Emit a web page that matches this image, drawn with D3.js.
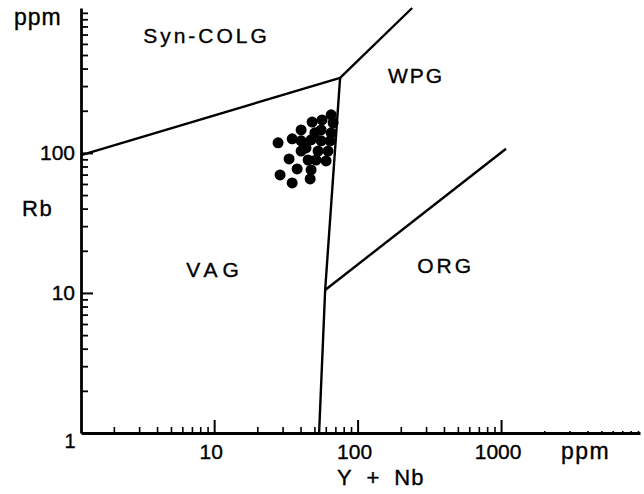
<!DOCTYPE html>
<html><head><meta charset="utf-8">
<script src="https://cdn.jsdelivr.net/npm/d3@7/dist/d3.min.js"></script>
<style>
body{margin:0;background:#fff;}
svg{display:block;font-family:"Liberation Sans",Arial,Helvetica,sans-serif;}
text{fill:#000;stroke:#000;stroke-width:0.35px;}
</style></head><body>
<svg id="chart" width="644" height="494"></svg>
<script>
// ---- data (Y+Nb ppm, Rb ppm) ----
const samplesYNb = [27.9,35.0,40.4,48.2,65.4,67.5,55.7,47.4,40.4,33.3,40.4,53.0,60.3,45.2,37.9,47.4,28.8,35.0,46.7,64.3,62.2,43.7,65.4,55.7,50.4,56.5,51.3];
const samplesRb  = [118,126,146,166,187,164,146,124,122,90.6,103,103,87.7,89,76.9,75.6,69.6,61,65.2,122,103,108.6,139,122,139,172,89];

// field boundaries (Y+Nb, Rb)
const boundaryVAGsynCOLG = [[1.2,96.8],[75.5,343]];
const boundarySynCOLGWPG = [[75.5,343],[240,1083]];
const boundaryVAGWPG     = [[75.5,343],[59.4,10.5],[53.9,1]];
const boundaryWPGORG     = [[59.4,10.5],[1083,107]];

const fieldNames  = ["Syn-COLG","WPG","VAG","ORG"];
const fieldAnchor = [[3.2,611],[163,316],[6.38,13],[260,13.9]];

const xMajorTicks = [10,100,1000];
const xMajorLabels = ["10","100","1000"];
const yMajorTicks = [10,100];
const yMajorLabels = ["10","100"];

// ---- scales ----
const svg = d3.select("#chart");
const x = d3.scaleLog().domain([1.18, 9300]).range([81, 640]);
const y = d3.scaleLog().domain([1, 1083]).range([433, 8]);

function minorTicks(lo, hi){
  const t=[];
  for(let d=1; d<=hi; d*=10){
    for(let m=1;m<10;m++){ const v=m*d; if(v>=lo && v<=hi) t.push(v); }
  }
  return t;
}

// ---- axes ----
const xMinor = minorTicks(1.5, 9300).filter(v=>!xMajorTicks.includes(v));
const yMinor = minorTicks(1.5, 1000).filter(v=>!yMajorTicks.includes(v));

const gx = svg.append("g").attr("transform","translate(0,433)")
  .call(d3.axisBottom(x).tickValues(xMinor).tickSize(-6).tickSizeOuter(0).tickFormat(""));
gx.selectAll(".tick line").attr("stroke-width",1.6)
  .attr("y2", d=> d>1000 ? -2 : -6);
const gxM = svg.append("g").attr("transform","translate(0,433)")
  .call(d3.axisBottom(x).tickValues(xMajorTicks).tickSize(-13).tickSizeOuter(0).tickFormat(""));
gxM.select(".domain").remove();
gxM.selectAll(".tick line").attr("stroke-width",2);
gx.select(".domain").attr("stroke-width",2.8);

const gy = svg.append("g").attr("transform","translate(81,0)")
  .call(d3.axisLeft(y).tickValues(yMinor).tickSize(-7).tickSizeOuter(0).tickFormat(""));
gy.selectAll(".tick line").attr("stroke-width",1.8);
gy.select(".domain").attr("stroke-width",2.8);
const gyM = svg.append("g").attr("transform","translate(81,0)")
  .call(d3.axisLeft(y).tickValues(yMajorTicks).tickSize(-12).tickSizeOuter(0).tickFormat(""));
gyM.select(".domain").remove();
gyM.selectAll(".tick line").attr("stroke-width",2);

// tick labels
svg.selectAll(".xlab").data(xMajorTicks).enter().append("text")
  .attr("x", d=>x(d)-3).attr("y",459).attr("text-anchor","middle")
  .attr("font-size",21).text((d,i)=>xMajorLabels[i]);
svg.selectAll(".ylab").data(yMajorTicks).enter().append("text")
  .attr("x", 75).attr("y", d=>y(d)+7).attr("text-anchor","end")
  .attr("font-size",21).text((d,i)=>yMajorLabels[i]);
svg.append("text").attr("x",70).attr("y",448).attr("text-anchor","middle")
  .attr("font-size",20).text("1");

// axis titles
svg.append("text").attr("x",14).attr("y",25).attr("font-size",23)
  .attr("letter-spacing",1).text("ppm");
svg.append("text").attr("x",561).attr("y",459).attr("font-size",23)
  .attr("letter-spacing",1.5).text("ppm");
svg.append("text").attr("x",22).attr("y",216).attr("font-size",22)
  .attr("letter-spacing",1.5).text("Rb");
svg.append("text").attr("x",337).attr("y",485).attr("font-size",22)
  .attr("letter-spacing",1).attr("word-spacing",7).text("Y + Nb");

// ---- boundaries ----
const line = d3.line().x(d=>x(d[0])).y(d=>y(d[1]));
[boundaryVAGsynCOLG, boundarySynCOLGWPG, boundaryVAGWPG, boundaryWPGORG].forEach(b=>{
  svg.append("path").attr("d", line(b)).attr("fill","none")
    .attr("stroke","#000").attr("stroke-width",2.4).attr("stroke-linejoin","round");
});

// field labels
const labelSpacing = [3,2,5,3];
svg.selectAll(".field").data(fieldNames).enter().append("text")
  .attr("x",(d,i)=>x(fieldAnchor[i][0])).attr("y",(d,i)=>y(fieldAnchor[i][1]))
  .attr("font-size",21).attr("letter-spacing",(d,i)=>labelSpacing[i])
  .text(d=>d);

// ---- samples ----
svg.selectAll("circle").data(samplesYNb).enter().append("circle")
  .attr("cx", d=>x(d)).attr("cy",(d,i)=>y(samplesRb[i])).attr("r",5.5)
  .attr("fill","#000");
</script>
</body></html>
